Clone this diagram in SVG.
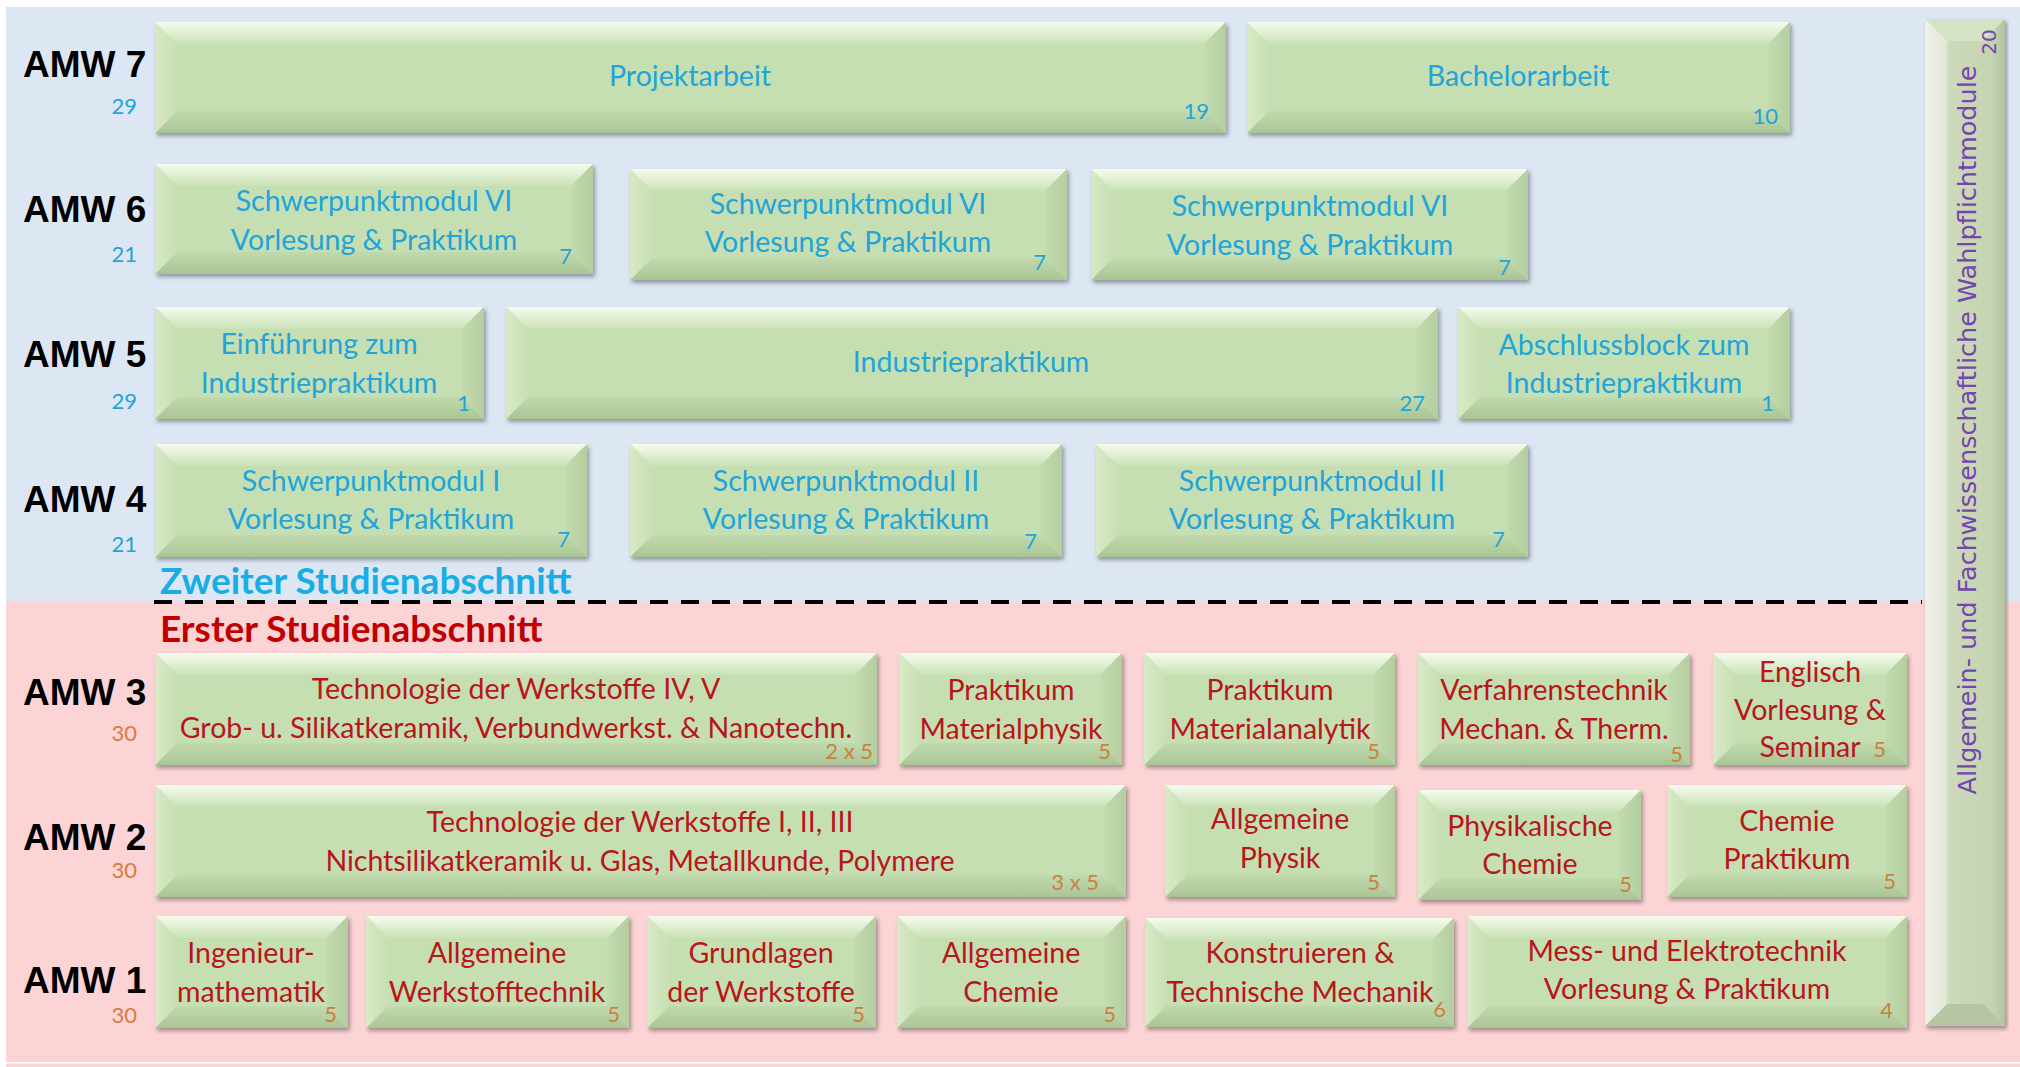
<svg xmlns="http://www.w3.org/2000/svg" width="2020" height="1067" viewBox="0 0 2020 1067">
<defs>
<linearGradient id="gt" x1="0" y1="0" x2="0" y2="1"><stop offset="0" stop-color="#f6fbef"/><stop offset="1" stop-color="#cae2b6"/></linearGradient>
<linearGradient id="gb" x1="0" y1="0" x2="0" y2="1"><stop offset="0" stop-color="#c1daad"/><stop offset="1" stop-color="#a9c596"/></linearGradient>
<linearGradient id="gl" x1="0" y1="0" x2="1" y2="0"><stop offset="0" stop-color="#d9e9c6"/><stop offset="1" stop-color="#c8dfb4"/></linearGradient>
<linearGradient id="gr" x1="0" y1="0" x2="1" y2="0"><stop offset="0" stop-color="#c3dbae"/><stop offset="1" stop-color="#b4cea0"/></linearGradient>
<linearGradient id="gv" x1="0" y1="0" x2="1" y2="0"><stop offset="0" stop-color="#f2efe9"/><stop offset="0.25" stop-color="#e4e9da"/><stop offset="0.3" stop-color="#cdd9bb"/><stop offset="0.85" stop-color="#c4d4b0"/><stop offset="1" stop-color="#b3c39f"/></linearGradient>
<filter id="sh" x="-5%" y="-10%" width="110%" height="130%"><feDropShadow dx="2" dy="3" stdDeviation="2.2" flood-color="#000" flood-opacity="0.35"/></filter>
<style>
.base{fill:#c6dfb2}
.bt{fill:url(#gt)}
.bb{fill:url(#gb)}
.bl{fill:url(#gl)}
.br{fill:url(#gr)}
.lab{font-family:"Liberation Sans",Arial,sans-serif;font-weight:bold;font-size:37px;fill:#000}
.t{font-family:Lato,"Open Sans",sans-serif;font-size:28.5px;text-anchor:middle}
.n{font-family:Lato,"Open Sans",sans-serif;font-size:22px;text-anchor:end}
.bl1{fill:#20a4d9}
.rd{fill:#b8161b}
.og{fill:#c8823e}
.ol{fill:#d67b3c}
.hd{font-family:Lato,"Open Sans",sans-serif;font-weight:bold;font-size:37px}
</style>
</defs>
<rect x="0" y="0" width="2020" height="1067" fill="#ffffff"/>
<rect x="6" y="7" width="2014" height="594" fill="#dce7f3"/>
<rect x="6" y="601" width="2014" height="466" fill="#fdd4d5"/>
<rect x="6" y="1062" width="2014" height="1.5" fill="#ffffff"/>

<g id="labels">
<text class="lab" x="23" y="77">AMW 7</text><text class="n bl1" x="137" y="114">29</text>
<text class="lab" x="23" y="222">AMW 6</text><text class="n bl1" x="137" y="262">21</text>
<text class="lab" x="23" y="367">AMW 5</text><text class="n bl1" x="137" y="409">29</text>
<text class="lab" x="23" y="512">AMW 4</text><text class="n bl1" x="137" y="552">21</text>
<text class="lab" x="23" y="705">AMW 3</text><text class="n ol" x="137" y="741">30</text>
<text class="lab" x="23" y="850">AMW 2</text><text class="n ol" x="137" y="878">30</text>
<text class="lab" x="23" y="993">AMW 1</text><text class="n ol" x="137" y="1023">30</text>
<text class="hd" x="160" y="594" fill="#19ade6">Zweiter Studienabschnitt</text>
<text class="hd" x="160" y="642" fill="#c00000">Erster Studienabschnitt</text>
</g>

<g id="connectors">
<line x1="154" y1="602" x2="1922" y2="602" stroke="#000" stroke-width="4" stroke-dasharray="18 13"/>
</g>

<g id="P1"><g filter="url(#sh)"><rect class="base" x="155" y="22" width="1071" height="111"/><path class="bt" d="M155 22H1226L1204 44H177Z"/><path class="bb" d="M155 133H1226L1204 111H177Z"/><path class="bl" d="M155 22L177 44V111L155 133Z"/><path class="br" d="M1226 22L1204 44V111L1226 133Z"/></g>
<text class="t bl1" x="690" y="86">Projektarbeit</text><text class="n bl1" x="1209" y="119">19</text></g>

<g id="P2"><g filter="url(#sh)"><rect class="base" x="1247" y="22" width="543" height="111"/><path class="bt" d="M1247 22H1790L1768 44H1269Z"/><path class="bb" d="M1247 133H1790L1768 111H1269Z"/><path class="bl" d="M1247 22L1269 44V111L1247 133Z"/><path class="br" d="M1790 22L1768 44V111L1790 133Z"/></g>
<text class="t bl1" x="1518" y="86">Bachelorarbeit</text><text class="n bl1" x="1778" y="124">10</text></g>

<g id="B1"><g filter="url(#sh)"><rect class="base" x="155" y="164" width="438" height="110"/><path class="bt" d="M155 164H593L571 186H177Z"/><path class="bb" d="M155 274H593L571 252H177Z"/><path class="bl" d="M155 164L177 186V252L155 274Z"/><path class="br" d="M593 164L571 186V252L593 274Z"/></g>
<text class="t bl1" x="374" y="211">Schwerpunktmodul VI</text><text class="t bl1" x="374" y="250">Vorlesung &amp; Praktikum</text><text class="n bl1" x="572" y="264">7</text></g>

<g id="B2"><g filter="url(#sh)"><rect class="base" x="630" y="169" width="437" height="111"/><path class="bt" d="M630 169H1067L1045 191H652Z"/><path class="bb" d="M630 280H1067L1045 258H652Z"/><path class="bl" d="M630 169L652 191V258L630 280Z"/><path class="br" d="M1067 169L1045 191V258L1067 280Z"/></g>
<text class="t bl1" x="848" y="214">Schwerpunktmodul VI</text><text class="t bl1" x="848" y="252">Vorlesung &amp; Praktikum</text><text class="n bl1" x="1046" y="270">7</text></g>

<g id="B3"><g filter="url(#sh)"><rect class="base" x="1091" y="169" width="437" height="111"/><path class="bt" d="M1091 169H1528L1506 191H1113Z"/><path class="bb" d="M1091 280H1528L1506 258H1113Z"/><path class="bl" d="M1091 169L1113 191V258L1091 280Z"/><path class="br" d="M1528 169L1506 191V258L1528 280Z"/></g>
<text class="t bl1" x="1310" y="216">Schwerpunktmodul VI</text><text class="t bl1" x="1310" y="255">Vorlesung &amp; Praktikum</text><text class="n bl1" x="1511" y="275">7</text></g>

<g id="C1"><g filter="url(#sh)"><rect class="base" x="155" y="307" width="329" height="112"/><path class="bt" d="M155 307H484L462 329H177Z"/><path class="bb" d="M155 419H484L462 397H177Z"/><path class="bl" d="M155 307L177 329V397L155 419Z"/><path class="br" d="M484 307L462 329V397L484 419Z"/></g>
<text class="t bl1" x="319" y="354">Einführung zum</text><text class="t bl1" x="319" y="393">Industriepraktikum</text><text class="n bl1" x="470" y="411">1</text></g>

<g id="C2"><g filter="url(#sh)"><rect class="base" x="506" y="307" width="932" height="112"/><path class="bt" d="M506 307H1438L1416 329H528Z"/><path class="bb" d="M506 419H1438L1416 397H528Z"/><path class="bl" d="M506 307L528 329V397L506 419Z"/><path class="br" d="M1438 307L1416 329V397L1438 419Z"/></g>
<text class="t bl1" x="971" y="372">Industriepraktikum</text><text class="n bl1" x="1425" y="411">27</text></g>

<g id="C3"><g filter="url(#sh)"><rect class="base" x="1458" y="307" width="332" height="112"/><path class="bt" d="M1458 307H1790L1768 329H1480Z"/><path class="bb" d="M1458 419H1790L1768 397H1480Z"/><path class="bl" d="M1458 307L1480 329V397L1458 419Z"/><path class="br" d="M1790 307L1768 329V397L1790 419Z"/></g>
<text class="t bl1" x="1624" y="355">Abschlussblock zum</text><text class="t bl1" x="1624" y="393">Industriepraktikum</text><text class="n bl1" x="1774" y="411">1</text></g>

<g id="D1"><g filter="url(#sh)"><rect class="base" x="155" y="444" width="432" height="113"/><path class="bt" d="M155 444H587L565 466H177Z"/><path class="bb" d="M155 557H587L565 535H177Z"/><path class="bl" d="M155 444L177 466V535L155 557Z"/><path class="br" d="M587 444L565 466V535L587 557Z"/></g>
<text class="t bl1" x="371" y="491">Schwerpunktmodul I</text><text class="t bl1" x="371" y="529">Vorlesung &amp; Praktikum</text><text class="n bl1" x="570" y="547">7</text></g>

<g id="D2"><g filter="url(#sh)"><rect class="base" x="630" y="444" width="432" height="113"/><path class="bt" d="M630 444H1062L1040 466H652Z"/><path class="bb" d="M630 557H1062L1040 535H652Z"/><path class="bl" d="M630 444L652 466V535L630 557Z"/><path class="br" d="M1062 444L1040 466V535L1062 557Z"/></g>
<text class="t bl1" x="846" y="491">Schwerpunktmodul II</text><text class="t bl1" x="846" y="529">Vorlesung &amp; Praktikum</text><text class="n bl1" x="1037" y="549">7</text></g>

<g id="D3"><g filter="url(#sh)"><rect class="base" x="1096" y="444" width="432" height="113"/><path class="bt" d="M1096 444H1528L1506 466H1118Z"/><path class="bb" d="M1096 557H1528L1506 535H1118Z"/><path class="bl" d="M1096 444L1118 466V535L1096 557Z"/><path class="br" d="M1528 444L1506 466V535L1528 557Z"/></g>
<text class="t bl1" x="1312" y="491">Schwerpunktmodul II</text><text class="t bl1" x="1312" y="529">Vorlesung &amp; Praktikum</text><text class="n bl1" x="1505" y="547">7</text></g>

<g id="E1"><g filter="url(#sh)"><rect class="base" x="155" y="653" width="722" height="112"/><path class="bt" d="M155 653H877L855 675H177Z"/><path class="bb" d="M155 765H877L855 743H177Z"/><path class="bl" d="M155 653L177 675V743L155 765Z"/><path class="br" d="M877 653L855 675V743L877 765Z"/></g>
<text class="t rd" x="516" y="699">Technologie der Werkstoffe IV, V</text><text class="t rd" x="516" y="738">Grob- u. Silikatkeramik, Verbundwerkst. &amp; Nanotechn.</text><text class="n og" x="873" y="759">2 x 5</text></g>

<g id="E2"><g filter="url(#sh)"><rect class="base" x="899" y="653" width="223" height="112"/><path class="bt" d="M899 653H1122L1100 675H921Z"/><path class="bb" d="M899 765H1122L1100 743H921Z"/><path class="bl" d="M899 653L921 675V743L899 765Z"/><path class="br" d="M1122 653L1100 675V743L1122 765Z"/></g>
<text class="t rd" x="1011" y="700">Praktikum</text><text class="t rd" x="1011" y="739">Materialphysik</text><text class="n og" x="1111" y="759">5</text></g>

<g id="E3"><g filter="url(#sh)"><rect class="base" x="1144" y="653" width="251" height="112"/><path class="bt" d="M1144 653H1395L1373 675H1166Z"/><path class="bb" d="M1144 765H1395L1373 743H1166Z"/><path class="bl" d="M1144 653L1166 675V743L1144 765Z"/><path class="br" d="M1395 653L1373 675V743L1395 765Z"/></g>
<text class="t rd" x="1270" y="700">Praktikum</text><text class="t rd" x="1270" y="739">Materialanalytik</text><text class="n og" x="1380" y="759">5</text></g>

<g id="E4"><g filter="url(#sh)"><rect class="base" x="1418" y="653" width="272" height="112"/><path class="bt" d="M1418 653H1690L1668 675H1440Z"/><path class="bb" d="M1418 765H1690L1668 743H1440Z"/><path class="bl" d="M1418 653L1440 675V743L1418 765Z"/><path class="br" d="M1690 653L1668 675V743L1690 765Z"/></g>
<text class="t rd" x="1554" y="700">Verfahrenstechnik</text><text class="t rd" x="1554" y="739">Mechan. &amp; Therm.</text><text class="n og" x="1683" y="762">5</text></g>

<g id="E5"><g filter="url(#sh)"><rect class="base" x="1713" y="653" width="194" height="112"/><path class="bt" d="M1713 653H1907L1885 675H1735Z"/><path class="bb" d="M1713 765H1907L1885 743H1735Z"/><path class="bl" d="M1713 653L1735 675V743L1713 765Z"/><path class="br" d="M1907 653L1885 675V743L1907 765Z"/></g>
<text class="t rd" x="1810" y="682">Englisch</text><text class="t rd" x="1810" y="720">Vorlesung &amp;</text><text class="t rd" x="1810" y="757">Seminar</text><text class="n og" x="1886" y="757">5</text></g>

<g id="F1"><g filter="url(#sh)"><rect class="base" x="155" y="785" width="971" height="112"/><path class="bt" d="M155 785H1126L1104 807H177Z"/><path class="bb" d="M155 897H1126L1104 875H177Z"/><path class="bl" d="M155 785L177 807V875L155 897Z"/><path class="br" d="M1126 785L1104 807V875L1126 897Z"/></g>
<text class="t rd" x="640" y="832">Technologie der Werkstoffe I, II, III</text><text class="t rd" x="640" y="871">Nichtsilikatkeramik u. Glas, Metallkunde, Polymere</text><text class="n og" x="1099" y="890">3 x 5</text></g>

<g id="F2"><g filter="url(#sh)"><rect class="base" x="1165" y="785" width="230" height="112"/><path class="bt" d="M1165 785H1395L1373 807H1187Z"/><path class="bb" d="M1165 897H1395L1373 875H1187Z"/><path class="bl" d="M1165 785L1187 807V875L1165 897Z"/><path class="br" d="M1395 785L1373 807V875L1395 897Z"/></g>
<text class="t rd" x="1280" y="829">Allgemeine</text><text class="t rd" x="1280" y="868">Physik</text><text class="n og" x="1380" y="890">5</text></g>

<g id="F3"><g filter="url(#sh)"><rect class="base" x="1418" y="790" width="223" height="110"/><path class="bt" d="M1418 790H1641L1619 812H1440Z"/><path class="bb" d="M1418 900H1641L1619 878H1440Z"/><path class="bl" d="M1418 790L1440 812V878L1418 900Z"/><path class="br" d="M1641 790L1619 812V878L1641 900Z"/></g>
<text class="t rd" x="1530" y="836">Physikalische</text><text class="t rd" x="1530" y="874">Chemie</text><text class="n og" x="1632" y="892">5</text></g>

<g id="F4"><g filter="url(#sh)"><rect class="base" x="1667" y="785" width="240" height="112"/><path class="bt" d="M1667 785H1907L1885 807H1689Z"/><path class="bb" d="M1667 897H1907L1885 875H1689Z"/><path class="bl" d="M1667 785L1689 807V875L1667 897Z"/><path class="br" d="M1907 785L1885 807V875L1907 897Z"/></g>
<text class="t rd" x="1787" y="831">Chemie</text><text class="t rd" x="1787" y="869">Praktikum</text><text class="n og" x="1896" y="889">5</text></g>

<g id="G1"><g filter="url(#sh)"><rect class="base" x="155" y="916" width="193" height="112"/><path class="bt" d="M155 916H348L326 938H177Z"/><path class="bb" d="M155 1028H348L326 1006H177Z"/><path class="bl" d="M155 916L177 938V1006L155 1028Z"/><path class="br" d="M348 916L326 938V1006L348 1028Z"/></g>
<text class="t rd" x="251" y="963">Ingenieur-</text><text class="t rd" x="251" y="1002">mathematik</text><text class="n og" x="337" y="1022">5</text></g>

<g id="G2"><g filter="url(#sh)"><rect class="base" x="366" y="916" width="263" height="112"/><path class="bt" d="M366 916H629L607 938H388Z"/><path class="bb" d="M366 1028H629L607 1006H388Z"/><path class="bl" d="M366 916L388 938V1006L366 1028Z"/><path class="br" d="M629 916L607 938V1006L629 1028Z"/></g>
<text class="t rd" x="497" y="963">Allgemeine</text><text class="t rd" x="497" y="1002">Werkstofftechnik</text><text class="n og" x="620" y="1022">5</text></g>

<g id="G3"><g filter="url(#sh)"><rect class="base" x="647" y="916" width="229" height="112"/><path class="bt" d="M647 916H876L854 938H669Z"/><path class="bb" d="M647 1028H876L854 1006H669Z"/><path class="bl" d="M647 916L669 938V1006L647 1028Z"/><path class="br" d="M876 916L854 938V1006L876 1028Z"/></g>
<text class="t rd" x="761" y="963">Grundlagen</text><text class="t rd" x="761" y="1002">der Werkstoffe</text><text class="n og" x="865" y="1022">5</text></g>

<g id="G4"><g filter="url(#sh)"><rect class="base" x="897" y="916" width="229" height="112"/><path class="bt" d="M897 916H1126L1104 938H919Z"/><path class="bb" d="M897 1028H1126L1104 1006H919Z"/><path class="bl" d="M897 916L919 938V1006L897 1028Z"/><path class="br" d="M1126 916L1104 938V1006L1126 1028Z"/></g>
<text class="t rd" x="1011" y="963">Allgemeine</text><text class="t rd" x="1011" y="1002">Chemie</text><text class="n og" x="1116" y="1022">5</text></g>

<g id="G5"><g filter="url(#sh)"><rect class="base" x="1145" y="918" width="309" height="109"/><path class="bt" d="M1145 918H1454L1432 940H1167Z"/><path class="bb" d="M1145 1027H1454L1432 1005H1167Z"/><path class="bl" d="M1145 918L1167 940V1005L1145 1027Z"/><path class="br" d="M1454 918L1432 940V1005L1454 1027Z"/></g>
<text class="t rd" x="1300" y="963">Konstruieren &amp;</text><text class="t rd" x="1300" y="1002">Technische Mechanik</text><text class="n og" x="1446" y="1017">6</text></g>

<g id="G6"><g filter="url(#sh)"><rect class="base" x="1467" y="916" width="440" height="112"/><path class="bt" d="M1467 916H1907L1885 938H1489Z"/><path class="bb" d="M1467 1028H1907L1885 1006H1489Z"/><path class="bl" d="M1467 916L1489 938V1006L1467 1028Z"/><path class="br" d="M1907 916L1885 938V1006L1907 1028Z"/></g>
<text class="t rd" x="1687" y="961">Mess- und Elektrotechnik</text><text class="t rd" x="1687" y="999">Vorlesung &amp; Praktikum</text><text class="n og" x="1893" y="1018">4</text></g>

<g id="V"><g filter="url(#sh)"><rect x="1925" y="19" width="80" height="1007" fill="url(#gv)"/><path d="M1925 19H2005L1983 41H1947Z" fill="#d6e3c6"/><path d="M1925 1026H2005L1983 1004H1947Z" fill="#b6c5a2"/></g>
<text transform="translate(1976,430) rotate(-90)" font-family="'DejaVu Sans',Verdana,sans-serif" font-size="25.5" fill="#7345ad" text-anchor="middle">Allgemein- und Fachwissenschaftliche Wahlpflichtmodule</text>
<text transform="translate(1996,42) rotate(-90)" font-family="'DejaVu Sans',Verdana,sans-serif" font-size="20" fill="#7345ad" text-anchor="middle">20</text></g>
</svg>
